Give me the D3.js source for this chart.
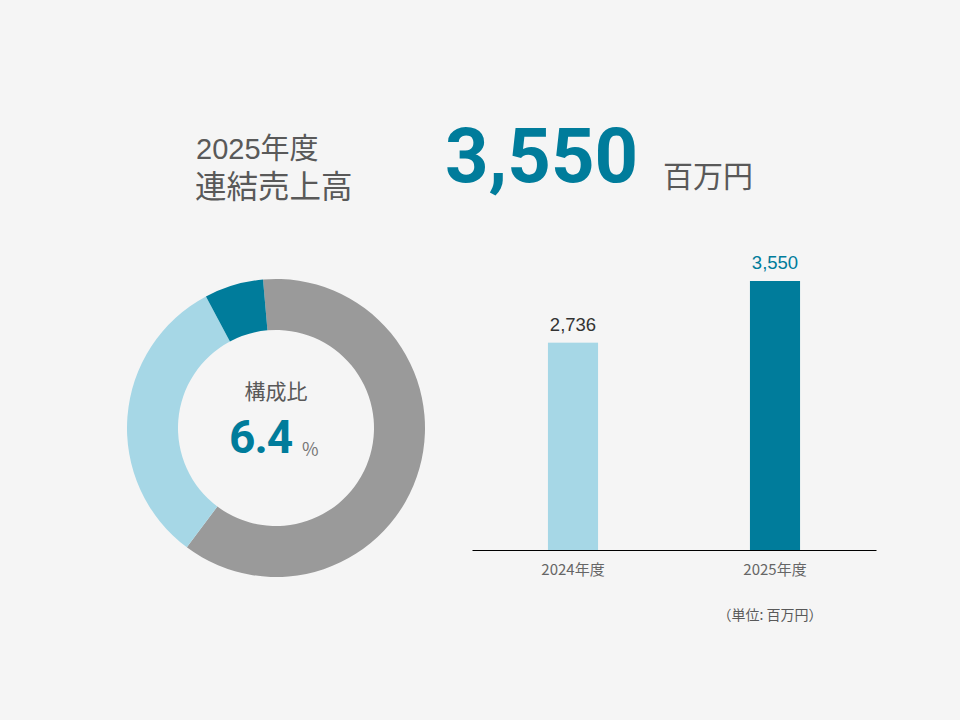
<!DOCTYPE html>
<html>
<head>
<meta charset="utf-8">
<script src="https://cdn.jsdelivr.net/npm/d3@7"></script>
<style>
  html, body { margin: 0; padding: 0; background: #F5F5F5; }
  svg { display: block; }
</style>
</head>
<body>
<svg id="chart" width="960" height="720"></svg>
<script>
// ---- data ----
const titleYear = "2025年度";
const titleLabel = "連結売上高";
const headlineValue = 3550;
const headlineUnit = "百万円";

const donutNames = ["その他", "その他事業", "当事業"];
const donutValues = [61.6, 32.0, 6.4];
const donutCenterLabel = "構成比";
const donutShare = 6.4;

const barCategories = ["2024年度", "2025年度"];
const barValues = [2736, 3550];
const unitNote = "（単位: 百万円）";

// ---- style ----
const TEAL = "#007C9B";
const LIGHT = "#A6D7E6";
const GRAY = "#9A9A9A";
const TEXT = "#595959";
const JP = "'Noto Sans CJK JP', 'Noto Sans', sans-serif";
const TITLE = "'Liberation Sans', 'Noto Sans CJK JP', sans-serif";
const NUM = "Roboto, 'Noto Sans CJK JP', sans-serif";
const LBL = "'Liberation Sans', Arial, sans-serif";
const donutColors = [GRAY, LIGHT, TEAL];
const barColors = [LIGHT, TEAL];
const barLabelColors = ["#333333", TEAL];

const svg = d3.select("#chart");
svg.append("rect").attr("width", 960).attr("height", 720).attr("fill", "#F5F5F5");

// ---- title ----
svg.append("text").attr("x", 196).attr("y", 159)
  .attr("font-family", TITLE).attr("font-size", 29).attr("fill", TEXT)
  .text(titleYear);
svg.append("text").attr("x", 195).attr("y", 198)
  .attr("font-family", TITLE).attr("font-size", 31.5).attr("fill", TEXT)
  .text(titleLabel);

svg.append("text").attr("x", 445).attr("y", 182)
  .attr("font-family", NUM).attr("font-weight", 700).attr("font-size", 76)
  .attr("fill", TEAL)
  .text(d3.format(",")(headlineValue));
svg.append("text").attr("x", 663).attr("y", 187)
  .attr("font-family", JP).attr("font-size", 30).attr("fill", TEXT)
  .text(headlineUnit);

// ---- donut ----
const cx = 276, cy = 428;
const pie = d3.pie().sort(null).value(d => d)
  .startAngle(-5 * Math.PI / 180)
  .endAngle(-5 * Math.PI / 180 + 2 * Math.PI);
const arc = d3.arc().innerRadius(98).outerRadius(149);
const g = svg.append("g").attr("transform", `translate(${cx},${cy})`);
g.selectAll("path").data(pie(donutValues)).join("path")
  .attr("d", arc)
  .attr("fill", (d, i) => donutColors[i]);

g.append("text").attr("x", 0).attr("y", -29).attr("text-anchor", "middle")
  .attr("font-family", JP).attr("font-size", 21).attr("fill", TEXT)
  .text(donutCenterLabel);
g.append("text").attr("x", -47).attr("y", 25)
  .attr("font-family", NUM).attr("font-weight", 700).attr("font-size", 46)
  .attr("letter-spacing", -1)
  .attr("fill", TEAL)
  .text(donutShare.toFixed(1));
g.append("text").attr("x", 26).attr("y", 28)
  .attr("font-family", JP).attr("font-size", 18).attr("fill", "#777")
  .text("%");

// ---- bars ----
const x = d3.scaleBand().domain(barCategories).range([472, 876])
  .paddingInner(0.752).paddingOuter(0.376);
const y = d3.scaleLinear().domain([0, 3550]).range([550, 281]);

svg.selectAll("rect.bar").data(barValues).join("rect")
  .attr("class", "bar")
  .attr("x", (d, i) => x(barCategories[i]))
  .attr("y", d => y(d))
  .attr("width", x.bandwidth())
  .attr("height", d => y(0) - y(d))
  .attr("fill", (d, i) => barColors[i]);

svg.selectAll("text.val").data(barValues).join("text")
  .attr("class", "val")
  .attr("x", (d, i) => x(barCategories[i]) + x.bandwidth() / 2)
  .attr("y", d => y(d) - 12)
  .attr("text-anchor", "middle")
  .attr("font-family", LBL).attr("font-size", 18.5)
  .attr("fill", (d, i) => barLabelColors[i])
  .text(d => d3.format(",")(d));

const axis = d3.axisBottom(x).tickSize(0).tickPadding(14);
const ag = svg.append("g").attr("transform", `translate(0,${y(0)})`).call(axis);
ag.select(".domain").attr("stroke", "#000").attr("stroke-width", 1.2);
ag.selectAll(".tick text")
  .attr("font-family", JP).attr("font-size", 15).attr("fill", "#666");

svg.append("text").attr("x", 770).attr("y", 620).attr("text-anchor", "middle")
  .attr("font-family", JP).attr("font-size", 14).attr("fill", "#595959")
  .text(unitNote);
</script>
</body>
</html>
